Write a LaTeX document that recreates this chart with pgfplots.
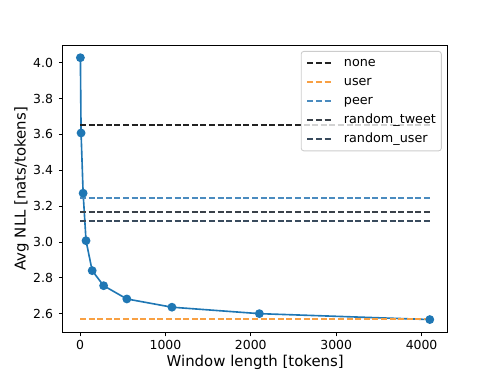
\documentclass[border=0pt]{standalone}
\usepackage{pgfplots}
\pgfplotsset{compat=1.18}
\usepackage{fontspec}
\setmainfont{DejaVu Sans}

\definecolor{nllblue}{HTML}{1F77B4}
\definecolor{cnone}{HTML}{222222}
\definecolor{cuser}{HTML}{F8A043}
\definecolor{cpeer}{HTML}{4A8BBF}
\definecolor{ctweet}{HTML}{3A4149}
\definecolor{cruser}{HTML}{394B5D}

\begin{document}
\begin{tikzpicture}
\begin{axis}[
    at={(0pt,0pt)}, anchor=south west,
    scale only axis,
    width=356pt, height=266pt,
    xmin=-203, xmax=4306,
    ymin=2.494, ymax=4.099,
    xtick={0,1000,2000,3000,4000},
    ytick={2.6,2.8,3.0,3.2,3.4,3.6,3.8,4.0},
    xtick pos=bottom, ytick pos=left,
    tick align=outside,
    major tick length=3.5pt,
    every tick/.style={black, line width=0.8pt},
    axis line style={line width=0.8pt},
    /pgf/number format/assume math mode=true,
    xticklabel style={font=\fontsize{11.5}{13}\selectfont, /pgf/number format/set thousands separator={}},
    yticklabel style={font=\fontsize{11.5}{13}\selectfont, xshift=-2pt, /pgf/number format/fixed, /pgf/number format/fixed zerofill, /pgf/number format/precision=1},
    xlabel={Window length [tokens]},
    ylabel={Avg NLL [nats/tokens]},
    label style={font=\fontsize{13.8}{16}\selectfont},
    xlabel style={at={(axis description cs:0.5,-0.104)}, anchor=center},
    ylabel style={at={(axis description cs:-0.107,0.5)}, anchor=center},
    legend cell align=left,
    legend image code/.code={\draw[#1] (0pt,0pt) -- (22pt,0pt);},
    legend style={
        at={(axis description cs:1,1)}, anchor=north east,
        xshift=-5.5pt, yshift=-5.5pt,
        font=\fontsize{11.8}{13}\selectfont,
        draw=black!20, line width=0.8pt, rounded corners=2.5pt,
        fill=white, fill opacity=0.8, draw opacity=1, text opacity=1,
        inner xsep=5pt, inner ysep=5pt,
        row sep=6pt, column sep=11pt,
        nodes={inner sep=0pt, text height=9pt, text depth=2.6pt},
    },
]
\addplot[color=nllblue, line width=1.5pt, mark=*, mark size=3.3pt, mark options={solid}, forget plot]
    coordinates {(4,4.028) (12,3.608) (36,3.272) (70,3.007) (142,2.840)
                 (276,2.756) (548,2.682) (1076,2.636) (2100,2.600) (4096,2.567)};
\addplot[color=cnone, line width=1.5pt, dash pattern=on 5.55pt off 2.4pt]
    coordinates {(0,3.651) (4096,3.651)};
\addplot[color=cuser, line width=1.5pt, dash pattern=on 5.55pt off 2.4pt]
    coordinates {(0,2.5695) (4096,2.5695)};
\addplot[color=cpeer, line width=1.5pt, dash pattern=on 5.55pt off 2.4pt]
    coordinates {(0,3.245) (4096,3.245)};
\addplot[color=ctweet, line width=1.5pt, dash pattern=on 5.55pt off 2.4pt]
    coordinates {(0,3.166) (4096,3.166)};
\addplot[color=cruser, line width=1.5pt, dash pattern=on 5.55pt off 2.4pt]
    coordinates {(0,3.117) (4096,3.117)};
\legend{none, user, peer, random\_tweet, random\_user}
\end{axis}
\path (-58pt,-38.2pt) rectangle (402.5pt,307.6pt);
\end{tikzpicture}
\end{document}
